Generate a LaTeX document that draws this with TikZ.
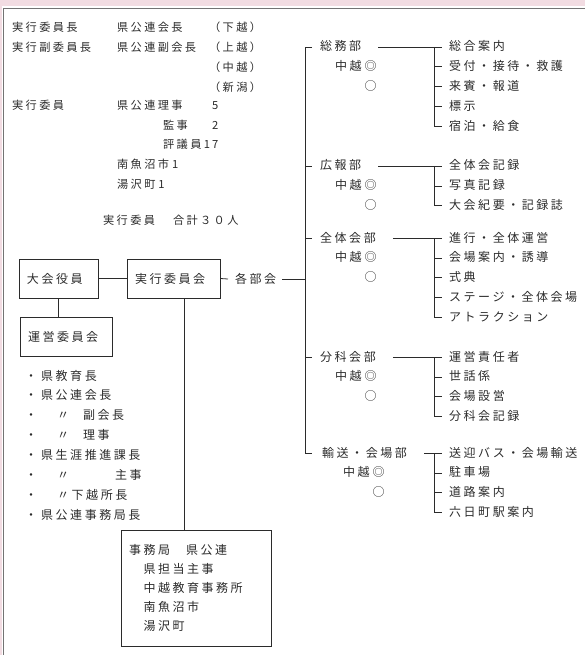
\documentclass[tikz,border=0pt]{standalone}
\usepackage{fontspec}
\usepackage{tikz}
\usetikzlibrary{positioning}
\newfontfamily\jp[LetterSpace=21]{Noto Sans CJK JP}
\definecolor{Ink}{HTML}{2B2B2B}
\definecolor{Blush}{HTML}{F2DCE2}

\begin{document}
\begin{tikzpicture}[
  x=1pt,y=-1pt,
  node distance=7.5pt,
  item/.style={inner sep=0pt,anchor=west,text height=10pt,text depth=2pt,
    font=\jp\fontsize{12}{14}\selectfont,text=Ink},
  head/.style={item,font=\jp\fontsize{11.2}{13}\selectfont},
  box/.style={draw=Ink,line width=0.8pt,fill=white,minimum height=39pt,
    inner xsep=8pt,align=left,font=\jp\fontsize{12}{19}\selectfont,text=Ink},
  link/.style={draw=Ink,line width=0.8pt},
  rowbelow/.style={below=of #1.south west,anchor=north west},
  rowbelowr/.style={below=of #1.south east,anchor=north east}
]
\useasboundingbox (0,0) rectangle (585,655);
\fill[Blush] (0,0) rectangle (585,6);
\fill[Blush] (0,0) rectangle (2,655);
\draw[black!55,line width=0.8pt] (585,8) -- (3,8) -- (3,655);

% members of the executive committee
\node[head] (chair) at (12,28) {実行委員長};
\node[head] (chairof) at (117,28) {県公連会長};
\node[head] (chairar) at (209,28) {（下越）};
\node[head] (vice) at (12,48) {実行副委員長};
\node[head] (viceof) at (117,48) {県公連副会長};
\node[head] (vicear1) at (209,48) {（上越）};
\node[head,rowbelow=vicear1] (vicear2) {（中越）};
\node[head,rowbelow=vicear2] (vicear3) {（新潟）};
\node[head] (memb) at (12,106) {実行委員};
\node[head] (riji) at (117,106) {県公連理事};
\node[head] (rijin) at (212,106) {5};
\node[head] (kanji) at (163,126) {監事};
\node[head] (kanjin) at (212,126) {2};
\node[head] (hyogi) at (163,145) {評議員1\hspace{2pt}7};
\node[head] (minami) at (117,164) {南魚沼市\hspace{3pt}1};
\node[head] (yuzawa) at (117,184) {湯沢町\hspace{3pt}1};
\node[head] (total) at (103,220) {実行委員\hspace{18pt}合計３０人};

% boxes
\node[box,text width=63pt] (taikai) at (58.5,278.5) {大会役員};
\node[box,text width=77pt] (jikkou) at (173.5,278.5) {実行委員会};
\node[box,text width=76pt] (unei) at (66,336.5) {運営委員会};
\node[item] (kakubu) at (235,279) {各部会};
\node[box,text width=134pt,minimum height=116pt] (jimu) at (196,588)
  {事務局\hspace{16pt}県公連\\\hspace*{14.5pt}県担当主事\\\hspace*{14.5pt}中越教育事務所\\
   \hspace*{14.5pt}南魚沼市\\\hspace*{14.5pt}湯沢町};

% steering committee list
\node[item] (l1) at (25,376) {・\hspace{4pt}県教育長};
\node[item,rowbelow=l1] (l2) {・\hspace{4pt}県公連会長};
\node[item,rowbelow=l2] (l3) {・\hspace{20pt}〃\hspace{14pt}副会長};
\node[item,rowbelow=l3] (l4) {・\hspace{20pt}〃\hspace{14pt}理事};
\node[item,rowbelow=l4] (l5) {・\hspace{4pt}県生涯推進課長};
\node[item,rowbelow=l5] (l6) {・\hspace{20pt}〃\hspace{46pt}主事};
\node[item,rowbelow=l6] (l7) {・\hspace{20pt}〃下越所長};
\node[item,rowbelow=l7] (l8) {・\hspace{4pt}県公連事務局長};

% departments
\node[item] (soumu) at (320,47) {総務部};
\node[item,below right=7.5pt and 15pt of soumu.south west] (chu1) {中越\hspace{3pt}◎};
\node[item,rowbelowr=chu1] (maru1) {○};
\node[item] (s1) at (449,47) {総合案内};
\node[item,rowbelow=s1] (s2) {受付・接待・救護};
\node[item,rowbelow=s2] (s3) {来賓・報道};
\node[item,rowbelow=s3] (s4) {標示};
\node[item,rowbelow=s4] (s5) {宿泊・給食};

\node[item] (kouhou) at (320,166) {広報部};
\node[item,below right=7.5pt and 15pt of kouhou.south west] (chu2) {中越\hspace{3pt}◎};
\node[item,rowbelowr=chu2] (maru2) {○};
\node[item] (k1) at (449,166) {全体会記録};
\node[item,rowbelow=k1] (k2) {写真記録};
\node[item,rowbelow=k2] (k3) {大会紀要・記録誌};

\node[item] (zentai) at (320,238) {全体会部};
\node[item,below right=7.5pt and 15pt of zentai.south west] (chu3) {中越\hspace{3pt}◎};
\node[item,rowbelowr=chu3] (maru3) {○};
\node[item] (z1) at (449,238) {進行・全体運営};
\node[item,rowbelow=z1] (z2) {会場案内・誘導};
\node[item,rowbelow=z2] (z3) {式典};
\node[item,rowbelow=z3] (z4) {ステージ・全体会場};
\node[item,rowbelow=z4] (z5) {アトラクション};

\node[item] (bunka) at (320,357) {分科会部};
\node[item,below right=7.5pt and 15pt of bunka.south west] (chu4) {中越\hspace{3pt}◎};
\node[item,rowbelowr=chu4] (maru4) {○};
\node[item] (b1) at (449,357) {運営責任者};
\node[item,rowbelow=b1] (b2) {世話係};
\node[item,rowbelow=b2] (b3) {会場設営};
\node[item,rowbelow=b3] (b4) {分科会記録};

\node[item] (yuso) at (322,453) {輸送・会場部};
\node[item,below right=7.5pt and 21pt of yuso.south west] (chu5) {中越\hspace{3pt}◎};
\node[item,rowbelowr=chu5] (maru5) {○};
\node[item] (y1) at (449,453) {送迎バス・会場輸送};
\node[item,rowbelow=y1] (y2) {駐車場};
\node[item,rowbelow=y2] (y3) {道路案内};
\node[item,rowbelow=y3] (y4) {六日町駅案内};

% connectors
\draw[link] (taikai) -- (jikkou);
\draw[link] (taikai.south) -- (taikai.south |- unei.north);
\coordinate (drop) at ([xshift=10.5pt]jikkou.south);
\draw[link] (drop) -- (drop |- jimu.north);
\draw[link] (jikkou.east) -- ([xshift=-7pt]kakubu.west);
\coordinate (trunk) at ([xshift=-15pt]soumu.west);
\draw[link] ([xshift=6pt]kakubu.east) -- (trunk |- kakubu.east);
\draw[link] ([xshift=-8pt]soumu.west) -| (trunk |- yuso.west) -- ([xshift=-10pt]yuso.west);
\draw[link] (trunk |- kouhou.west) -- ([xshift=-8pt]kouhou.west);
\draw[link] (trunk |- zentai.west) -- ([xshift=-8pt]zentai.west);
\draw[link] (trunk |- bunka.west) -- ([xshift=-8pt]bunka.west);

\draw[link] ([xshift=17pt]soumu.east) -- ([xshift=-7pt]s1.west);
\draw[link] ([xshift=-15pt]s1.west) |- ([xshift=-7pt]s5.west);
\draw[link] ([xshift=-15pt]s2.west) -- ([xshift=-7pt]s2.west);
\draw[link] ([xshift=-15pt]s3.west) -- ([xshift=-7pt]s3.west);
\draw[link] ([xshift=-15pt]s4.west) -- ([xshift=-7pt]s4.west);

\draw[link] ([xshift=17pt]kouhou.east) -- ([xshift=-7pt]k1.west);
\draw[link] ([xshift=-15pt]k1.west) |- ([xshift=-7pt]k3.west);
\draw[link] ([xshift=-15pt]k2.west) -- ([xshift=-7pt]k2.west);

\draw[link] ([xshift=17pt]zentai.east) -- ([xshift=-7pt]z1.west);
\draw[link] ([xshift=-15pt]z1.west) |- ([xshift=-7pt]z5.west);
\draw[link] ([xshift=-15pt]z2.west) -- ([xshift=-7pt]z2.west);
\draw[link] ([xshift=-15pt]z3.west) -- ([xshift=-7pt]z3.west);
\draw[link] ([xshift=-15pt]z4.west) -- ([xshift=-7pt]z4.west);

\draw[link] ([xshift=17pt]bunka.east) -- ([xshift=-7pt]b1.west);
\draw[link] ([xshift=-15pt]b1.west) |- ([xshift=-7pt]b4.west);
\draw[link] ([xshift=-15pt]b2.west) -- ([xshift=-7pt]b2.west);
\draw[link] ([xshift=-15pt]b3.west) -- ([xshift=-7pt]b3.west);

\draw[link] ([xshift=17pt]yuso.east) -- ([xshift=-7pt]y1.west);
\draw[link] ([xshift=-15pt]y1.west) |- ([xshift=-7pt]y4.west);
\draw[link] ([xshift=-15pt]y2.west) -- ([xshift=-7pt]y2.west);
\draw[link] ([xshift=-15pt]y3.west) -- ([xshift=-7pt]y3.west);
\end{tikzpicture}
\end{document}
